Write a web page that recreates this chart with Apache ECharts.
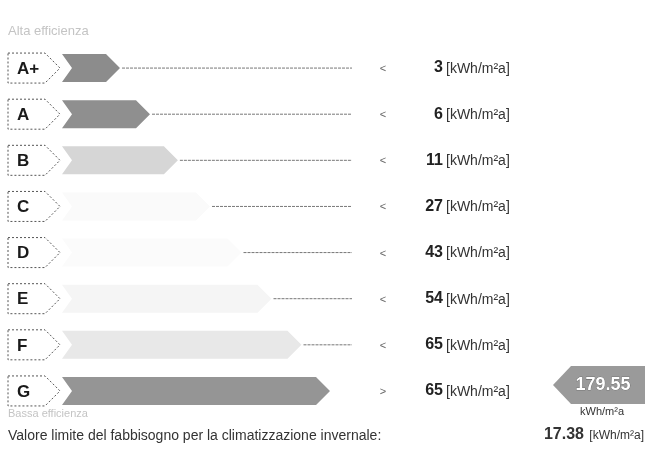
<!DOCTYPE html>
<html><head><meta charset="utf-8">
<script src="https://cdn.jsdelivr.net/npm/echarts@6/dist/echarts.min.js"></script>
<style>html,body{margin:0;padding:0;background:#fff}#c{width:647px;height:459px}</style>
</head><body><div id="c"></div>
<script>
var classes = ['A+', 'A', 'B', 'C', 'D', 'E', 'F', 'G'];
var barLength = [2, 3, 3.93, 5, 6.05, 7.05, 8.05, 9];
var signs = ['<', '<', '<', '<', '<', '<', '<', '>'];
var limits = ['3', '6', '11', '27', '43', '54', '65', '65'];
var barColors = ['#8c8c8c', '#8f8f8f', '#d6d6d6', '#fafafa', '#fbfbfb', '#f5f5f5', '#e8e8e8', '#959595'];
var unit = '[kWh/m²a]';
var buildingValue = '179.55';
var buildingClass = 'G';
var topText = 'Alta efficienza';
var bottomText = 'Bassa efficienza';
var footLabel = 'Valore limite del fabbisogno per la climatizzazione invernale:';
var footValue = '17.38';

var FONT = '"Liberation Sans", Arial, sans-serif';
var chart = echarts.init(document.getElementById('c'));

function renderItem(params, api) {
  var i = params.dataIndex;
  var end = api.coord([api.value(0), api.value(1)]);
  var y = end[1];
  var xe = end[0];
  var h = 28, hh = h / 2, tip = 14;
  var ch = [];
  ch.push({type: 'polygon', shape: {points: [[8, y - hh - 1], [45, y - hh - 1], [60, y], [45, y + hh + 1], [8, y + hh + 1]]},
    style: {fill: 'none', stroke: '#555', lineWidth: 1, lineDash: [2, 2]}});
  ch.push({type: 'text', x: 17, y: y + 1, style: {text: classes[i], fill: '#1a1a1a', font: 'bold 17px ' + FONT, verticalAlign: 'middle', align: 'left'}});
  var x0 = 62;
  ch.push({type: 'polygon', shape: {points: [[x0, y - hh], [xe - tip, y - hh], [xe, y], [xe - tip, y + hh], [x0, y + hh], [x0 + 10, y]]},
    style: {fill: barColors[i]}});
  if (signs[i] === '<') {
    ch.push({type: 'line', shape: {x1: xe + 2, y1: y, x2: 352, y2: y}, style: {stroke: '#777', lineWidth: 1, lineDash: [3, 1]}});
  }
  ch.push({type: 'text', x: 383, y: y + 1, style: {text: signs[i], fill: '#666', font: '11px ' + FONT, align: 'center', verticalAlign: 'middle'}});
  ch.push({type: 'text', x: 443, y: y, style: {text: limits[i], fill: '#222', font: 'bold 16px ' + FONT, align: 'right', verticalAlign: 'middle'}});
  ch.push({type: 'text', x: 446, y: y + 1, style: {text: unit, fill: '#333', font: '14px ' + FONT, align: 'left', verticalAlign: 'middle'}});
  if (classes[i] === buildingClass) {
    var py = y - 6, ph = 19;
    ch.push({type: 'polygon', shape: {points: [[553, py], [571, py - ph], [645, py - ph], [645, py + ph], [571, py + ph]]},
      style: {fill: '#9a9a9a'}});
    ch.push({type: 'text', x: 603, y: py, style: {text: buildingValue, fill: '#fff', font: 'bold 18px ' + FONT, align: 'center', verticalAlign: 'middle', stroke: '#555', lineWidth: 0.6}});
    ch.push({type: 'text', x: 602, y: y + 21, style: {text: 'kWh/m²a', fill: '#333', font: '11px ' + FONT, align: 'center', verticalAlign: 'middle'}});
  }
  return {type: 'group', children: ch};
}

var data = barLength.map(function (v, i) { return [v, i]; });

chart.setOption({
  animation: false,
  grid: {left: 60, right: 17, top: 45, height: 369},
  xAxis: {type: 'value', min: 0, max: 19, show: false},
  yAxis: {type: 'category', data: classes, inverse: true, show: false},
  series: [{type: 'custom', renderItem: renderItem, data: data, clip: false}],
  graphic: [
    {type: 'text', left: 8, top: 25, style: {text: topText, fill: '#c4c4c4', font: '13px ' + FONT}},
    {type: 'text', left: 8, top: 408, style: {text: bottomText, fill: '#c4c4c4', font: '11px ' + FONT}},
    {type: 'text', left: 8, top: 429, style: {text: footLabel, fill: '#333', font: '14px ' + FONT}},
    {type: 'text', right: 63, top: 427, style: {text: footValue, fill: '#333', font: 'bold 16px ' + FONT}},
    {type: 'text', right: 3, top: 430, style: {text: unit, fill: '#333', font: '12px ' + FONT}}
  ]
});
</script></body></html>
